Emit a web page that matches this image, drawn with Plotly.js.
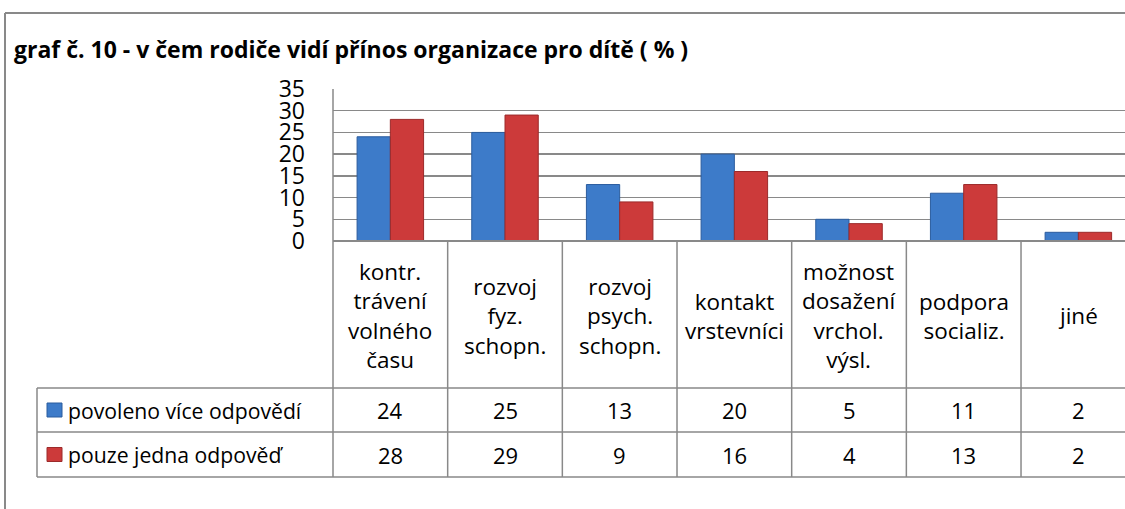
<!DOCTYPE html>
<html>
<head>
<meta charset="utf-8">
<script src="https://cdn.plot.ly/plotly-3.0.1.min.js"></script>
<style>
html,body{margin:0;padding:0;background:#fff;overflow:hidden;}
#chart{width:1125px;height:509px;}
</style>
</head>
<body>
<div id="chart"></div>
<script>
// ---- data ----
const categories = [
  "kontr.<br>trávení<br>volného<br>času",
  "rozvoj<br>fyz.<br>schopn.",
  "rozvoj<br>psych.<br>schopn.",
  "kontakt<br>vrstevníci",
  "možnost<br>dosažení<br>vrchol.<br>výsl.",
  "podpora<br>socializ.",
  "jiné"
];
const seriesNames = ["povoleno více odpovědí", "pouze jedna odpověď"];
const multiAnswer = [24, 25, 13, 20, 5, 11, 2];
const singleAnswer = [28, 29, 9, 16, 4, 13, 2];
const yTicks = [0, 5, 10, 15, 20, 25, 30, 35];
const chartTitle = "graf č. 10 - v čem rodiče vidí přínos organizace pro dítě ( % )";

// ---- layout geometry (pixels) ----
const W = 1125, H = 509;
const plotL = 333, plotT = 89, plotB = 241;
const plotW = W - plotL, plotH = plotB - plotT;
const colW = 114.67;
const FONT = "'Open Sans', 'Noto Sans', sans-serif";
const LINE = "#898989";

const px2x = p => (p - plotL) / plotW;          // paper x
const px2y = p => (plotB - p) / plotH;          // paper y

const idx = categories.map((_, i) => i);
const blue = "#3d7bc9", red = "#cc3a3a";

const traces = [
  {type: "bar", name: seriesNames[0], x: idx, y: multiAnswer,
   marker: {color: blue, line: {color: "#2b5c9e", width: 1}}, showlegend: false, hoverinfo: "none"},
  {type: "bar", name: seriesNames[1], x: idx, y: singleAnswer,
   marker: {color: red, line: {color: "#9c2a2a", width: 1}}, showlegend: false, hoverinfo: "none"}
];

const shapes = [];
const ann = [];
function hline(y, x0, x1, w) {
  shapes.push({type: "line", xref: "paper", yref: "paper", x0: px2x(x0), x1: px2x(x1),
    y0: px2y(y), y1: px2y(y), line: {color: LINE, width: w || 1.5}, layer: "above"});
}
function vlineData(xd, y0, y1) {
  shapes.push({type: "line", xref: "x", yref: "paper", x0: xd, x1: xd,
    y0: px2y(y0), y1: px2y(y1), line: {color: LINE, width: 1.5}, layer: "above"});
}
function vlinePx(x, y0, y1, w) {
  shapes.push({type: "line", xref: "paper", yref: "paper", x0: px2x(x), x1: px2x(x),
    y0: px2y(y0), y1: px2y(y1), line: {color: LINE, width: w || 1.5}, layer: "above"});
}

// outer chart border
hline(13, 5, W + 5, 2);
vlinePx(5, 13, H + 5, 2);

// table grid
const rowTop = 241, rowHead = 388, row1 = 432, row2 = 477;
vlinePx(plotL, plotT, row2);
for (let i = 1; i < categories.length; i++) vlineData(i - 0.5, rowTop, row2);
hline(rowTop, plotL, W + 5, 2);
hline(rowHead, 37, W + 5);
hline(row1, 37, W + 5);
hline(row2, 37, W + 5);
vlinePx(37, rowHead, row2);

// category labels
categories.forEach((c, i) => {
  ann.push({xref: "x", yref: "paper", x: i, y: px2y((rowTop + rowHead) / 2 + 1),
    text: c, showarrow: false, align: "center", xanchor: "center", yanchor: "middle",
    font: {family: FONT, size: 22.5, color: "#000"}});
});
// values rows
const rows = [multiAnswer, singleAnswer];
const rowCenters = [(rowHead + row1) / 2, (row1 + row2) / 2];
const keyColors = [blue, red];
const keyEdge = ["#2b5c9e", "#9c2a2a"];
rows.forEach((vals, r) => {
  vals.forEach((v, i) => {
    ann.push({xref: "x", yref: "paper", x: i, y: px2y(rowCenters[r]),
      text: String(v), showarrow: false, xanchor: "center", yanchor: "middle",
      font: {family: FONT, size: 22, color: "#000"}});
  });
  ann.push({xref: "paper", yref: "paper", x: px2x(66), y: px2y(rowCenters[r]),
    text: seriesNames[r], showarrow: false, xanchor: "left", yanchor: "middle",
    font: {family: FONT, size: 21.2, color: "#000"}});
  shapes.push({type: "rect", xref: "paper", yref: "paper",
    x0: px2x(47), x1: px2x(62), y0: px2y(rowCenters[r] - 7), y1: px2y(rowCenters[r] + 7),
    fillcolor: keyColors[r], line: {color: keyEdge[r], width: 1}});
});

const layout = {
  width: W, height: H,
  margin: {l: plotL, r: 0, t: plotT, b: H - plotB, pad: 0},
  paper_bgcolor: "#fff", plot_bgcolor: "#fff",
  font: {family: FONT, color: "#000"},
  title: {text: "<b>" + chartTitle + "</b>", xref: "container", yref: "container",
    x: 14 / W, xanchor: "left", y: 1 - 50 / H, yanchor: "middle",
    font: {family: FONT, size: 23, color: "#000"}},
  barmode: "group", bargap: 0.42, bargroupgap: 0,
  xaxis: {range: [-0.5, -0.5 + plotW / colW], showticklabels: false, showgrid: false,
    zeroline: false, showline: false, ticks: "", fixedrange: true},
  yaxis: {range: [0, 35], tickvals: yTicks, ticktext: yTicks.map(String), showgrid: true,
    gridcolor: LINE, gridwidth: 1.5, zeroline: false, showline: false, ticks: "",
    ticklabelstandoff: 27, tickfont: {family: FONT, size: 23, color: "#000"}, fixedrange: true},
  shapes: shapes,
  annotations: ann
};

Plotly.newPlot("chart", traces, layout, {displayModeBar: false, staticPlot: true});
</script>
</body>
</html>
